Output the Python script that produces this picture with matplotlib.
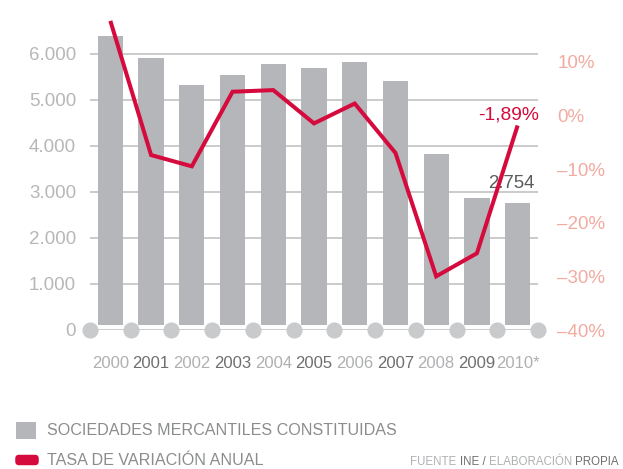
import matplotlib
matplotlib.use("Agg")
import matplotlib.pyplot as plt
from matplotlib import font_manager
from matplotlib.patches import Rectangle, FancyBboxPatch

# ---------------- data ----------------
years = ["2000", "2001", "2002", "2003", "2004", "2005", "2006", "2007", "2008", "2009", "2010*"]
sociedades = [6390, 5905, 5330, 5545, 5790, 5695, 5825, 5415, 3830, 2860, 2754]
tasa = [17.6, -7.4, -9.5, 4.4, 4.7, -1.5, 2.2, -7.0, -30.0, -25.7, -1.89]
left_ticks = [0, 1000, 2000, 3000, 4000, 5000, 6000]
left_labels = ["0", "1.000", "2.000", "3.000", "4.000", "5.000", "6.000"]
right_ticks = [-40, -30, -20, -10, 0, 10]
right_labels = ["–40%", "–30%", "–20%", "–10%", "0%", "10%"]
label_last_bar = "2.754"
label_last_rate = "-1,89%"
legend_bar = "SOCIEDADES MERCANTILES CONSTITUIDAS"
legend_line = "TASA DE VARIACIÓN ANUAL"
source_parts = [("FUENTE ", "light"), ("INE / ", "dark"), ("ELABORACIÓN ", "light"), ("PROPIA", "dark")]

# ---------------- style ----------------
BAR = "#b5b6b9"
RED = "#d50a3d"
GRID = "#bdbdbf"
DOT = "#c9cacc"
LEFTTXT = "#b6b7b9"
RIGHTTXT = "#f2aba1"
LIGHT = "#afb0b2"
DARK = "#6e6f71"
LEG = "#8b8c8e"

names = {f.name for f in font_manager.fontManager.ttflist}
if "Liberation Sans Narrow" in names:
    NARROW, NS = "Liberation Sans Narrow", 1.0
else:
    NARROW, NS = "Liberation Sans", 0.84
REG = "Liberation Sans" if "Liberation Sans" in names else "DejaVu Sans"

W, H = 623, 469
fig = plt.figure(figsize=(W / 100, H / 100), dpi=100)

def fx(px):
    return px / W

def fy(py):
    return 1 - py / H

ax = fig.add_axes([fx(90), fy(330), fx(538) - fx(90), fy(8) - fy(330)])
ax2 = ax.twinx()

x = list(range(len(years)))
ax.set_xlim(-0.5, len(years) - 0.5)
ax.set_ylim(0, 7000)
ax2.set_ylim(-40, 20)

# grid
for t in left_ticks:
    ax.axhline(t, color=GRID, lw=1.1, zorder=0)

# bars (start slightly above the baseline as in the original)
base = 110
ax.bar(x, [v - base for v in sociedades], bottom=base, width=0.62, color=BAR, zorder=1)

# dots on baseline
dots_x = [i - 0.5 for i in range(len(years) + 1)]
ax.scatter(dots_x, [0] * len(dots_x), s=135, color=DOT, zorder=3, clip_on=False, linewidths=0)

# line
ax2.plot(x, tasa, color=RED, lw=2.9, zorder=4, solid_capstyle="butt", solid_joinstyle="miter")

# annotations
ax2.annotate(label_last_rate, xy=(x[-1], tasa[-1]), xytext=(15.5, 7.5), textcoords="offset points",
             ha="right", va="center", color=RED, fontsize=16.5 * NS, family=NARROW, zorder=5)
ax.annotate(label_last_bar, xy=(x[-1], sociedades[-1]), xytext=(12, 14.5), textcoords="offset points",
            ha="right", va="center", color="#5a5b5d", fontsize=16 * NS, family=NARROW, zorder=2)

# axes styling
for a in (ax, ax2):
    for s in a.spines.values():
        s.set_visible(False)
ax.patch.set_visible(False)

ax.set_yticks(left_ticks)
ax.set_yticklabels(left_labels, color=LEFTTXT, fontsize=13.5, family=REG)
ax.tick_params(axis="y", length=0, pad=10)
ax2.set_yticks(right_ticks)
ax2.set_yticklabels(right_labels, color=RIGHTTXT, fontsize=13.5, family=REG)
ax2.tick_params(axis="y", length=0, pad=14)

ax.set_xticks(x)
ax.set_xticklabels(years, fontsize=12, family=REG)
ax.tick_params(axis="x", length=0, pad=18.5)
for i, lab in enumerate(ax.get_xticklabels()):
    lab.set_color(LIGHT if i % 2 == 0 else DARK)

# legend
fig.add_artist(Rectangle((fx(16), fy(438.5)), fx(20), fy(421.5) - fy(438.5), transform=fig.transFigure,
                         color=BAR, lw=0))
fig.add_artist(FancyBboxPatch((fx(19), fy(461.5)), fx(16), fy(458.5) - fy(461.5),
                              boxstyle="round,pad=0.006,rounding_size=0.006", mutation_aspect=W / H,
                              transform=fig.transFigure, color=RED, lw=0))
fig.text(fx(47), fy(430), legend_bar, ha="left", va="center", color=LEG, fontsize=13.85 * NS, family=NARROW)
fig.text(fx(47), fy(460), legend_line, ha="left", va="center", color=LEG, fontsize=13.85 * NS, family=NARROW)

# source line, right-aligned to the figure edge
renderer = fig.canvas.get_renderer()
pieces = []
for txt, tone in source_parts:
    t = fig.text(0, fy(462), txt, ha="left", va="center", color=LIGHT if tone == "light" else DARK,
                 fontsize=9.9 * NS, family=NARROW)
    pieces.append((t, t.get_window_extent(renderer=renderer).width))
total = sum(w for _, w in pieces)
cur = 619 - total
for t, w in pieces:
    t.set_x(fx(cur))
    cur += w

fig.savefig("out.png", dpi=100)
